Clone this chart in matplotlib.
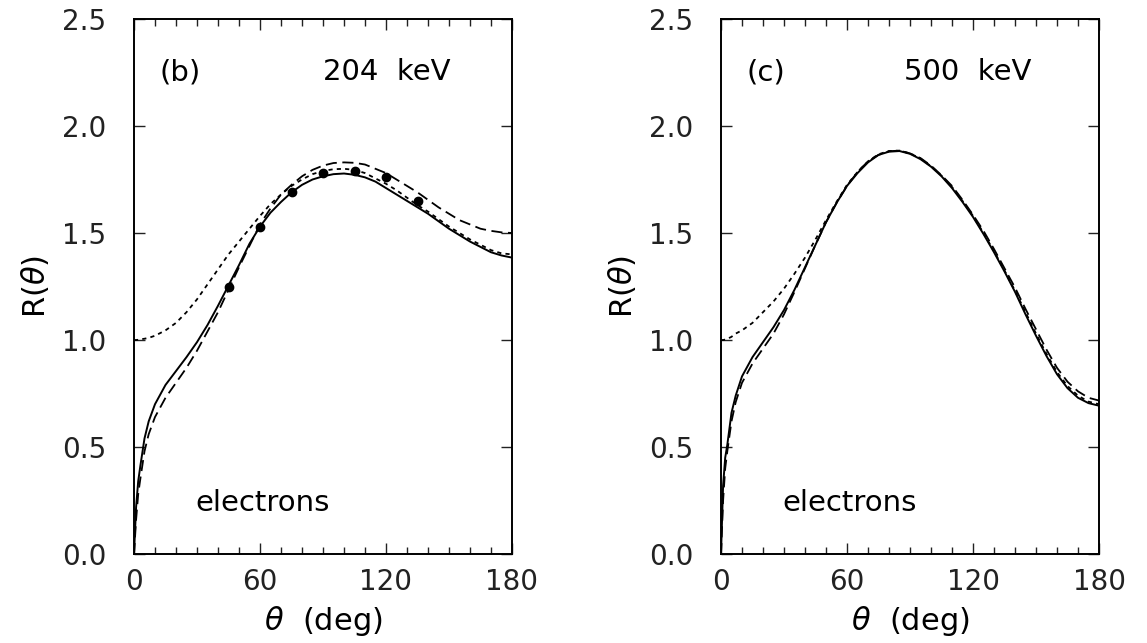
import numpy as np
import matplotlib
matplotlib.use("Agg")
import matplotlib.pyplot as plt
from matplotlib.ticker import MultipleLocator, FormatStrFormatter

plt.rcParams['font.family'] = ['DejaVu Sans']
plt.rcParams['lines.scale_dashes'] = False
plt.rcParams['mathtext.fontset'] = 'dejavusans'

# angle grid (deg) shared by all curves
theta = [0, 1, 2, 3, 5, 7, 10, 15, 20, 25, 30, 35, 40, 45, 50, 55, 60, 65, 70,
         75, 80, 85, 90, 95, 100, 105, 110, 115, 120, 125, 130, 135, 140, 145,
         150, 155, 160, 165, 170, 175, 180]

# (b) 204 keV
solid_b = [0, 0.22, 0.34, 0.41, 0.54, 0.62, 0.70, 0.79, 0.855, 0.92, 0.99, 1.07,
           1.16, 1.255, 1.35, 1.45, 1.53, 1.595, 1.645, 1.69, 1.725, 1.75,
           1.765, 1.775, 1.778, 1.772, 1.76, 1.74, 1.71, 1.68, 1.65, 1.62,
           1.59, 1.555, 1.52, 1.49, 1.46, 1.435, 1.41, 1.395, 1.385]
long_b = [0, 0.16, 0.28, 0.35, 0.48, 0.56, 0.64, 0.73, 0.80, 0.87, 0.95, 1.04,
          1.13, 1.235, 1.34, 1.44, 1.54, 1.615, 1.68, 1.725, 1.765, 1.795,
          1.815, 1.827, 1.83, 1.828, 1.82, 1.80, 1.78, 1.75, 1.72, 1.69,
          1.655, 1.62, 1.59, 1.56, 1.54, 1.52, 1.51, 1.503, 1.50]
short_b = [1.0, 1.0, 1.001, 1.003, 1.006, 1.01, 1.02, 1.045, 1.08, 1.13, 1.19,
           1.26, 1.33, 1.40, 1.46, 1.52, 1.58, 1.635, 1.68, 1.72, 1.75, 1.775,
           1.79, 1.798, 1.80, 1.795, 1.78, 1.755, 1.73, 1.70, 1.665, 1.63,
           1.60, 1.565, 1.53, 1.50, 1.47, 1.445, 1.42, 1.405, 1.40]
exp_theta_b = [45, 60, 75, 90, 105, 120, 135]
exp_R_b = [1.25, 1.53, 1.69, 1.78, 1.79, 1.76, 1.65]

# (c) 500 keV
solid_c = [0, 0.32, 0.45, 0.51, 0.66, 0.74, 0.83, 0.92, 0.99, 1.06, 1.14, 1.235,
           1.34, 1.445, 1.55, 1.64, 1.72, 1.78, 1.83, 1.865, 1.88, 1.883,
           1.87, 1.845, 1.81, 1.765, 1.71, 1.645, 1.575, 1.495, 1.41, 1.32,
           1.225, 1.12, 1.02, 0.925, 0.84, 0.775, 0.73, 0.705, 0.693]
long_c = [0, 0.25, 0.40, 0.48, 0.62, 0.71, 0.80, 0.89, 0.96, 1.03, 1.12, 1.225,
          1.335, 1.445, 1.55, 1.64, 1.72, 1.785, 1.835, 1.865, 1.882, 1.885,
          1.872, 1.85, 1.815, 1.77, 1.72, 1.655, 1.585, 1.51, 1.425, 1.335,
          1.245, 1.145, 1.05, 0.955, 0.87, 0.805, 0.76, 0.73, 0.717]
short_c = [1.0, 1.0, 1.002, 1.005, 1.015, 1.03, 1.045, 1.08, 1.13, 1.18, 1.24,
           1.31, 1.385, 1.47, 1.56, 1.645, 1.725, 1.785, 1.835, 1.868, 1.883,
           1.885, 1.872, 1.848, 1.812, 1.768, 1.715, 1.65, 1.58, 1.50, 1.415,
           1.325, 1.23, 1.13, 1.03, 0.935, 0.85, 0.785, 0.74, 0.712, 0.70]

panels = [
    ("(b)", "204  keV", solid_b, long_b, short_b, True),
    ("(c)", "500  keV", solid_c, long_c, short_c, False),
]

fig = plt.figure(figsize=(11.47, 6.43), dpi=100)
lefts = [134 / 1147, 721 / 1147]

for (tag, energy, sol, lng, sht, show_exp), left in zip(panels, lefts):
    ax = fig.add_axes([left, 1 - 554 / 643, 378 / 1147, 535 / 643])
    ax.plot(theta, sol, color='black', lw=1.4)
    ax.plot(theta, lng, color='black', lw=1.3, dashes=(8, 4))
    ax.plot(theta, sht, color='black', lw=1.3, dashes=(3, 3))
    if show_exp:
        ax.plot(exp_theta_b, exp_R_b, 'o', color='black', ms=6)

    ax.set_xlim(0, 180)
    ax.set_ylim(0, 2.5)
    ax.xaxis.set_major_locator(MultipleLocator(60))
    ax.xaxis.set_minor_locator(MultipleLocator(10))
    ax.yaxis.set_major_locator(MultipleLocator(0.5))
    ax.yaxis.set_major_formatter(FormatStrFormatter('%.1f'))
    ax.tick_params(which='both', direction='in', top=True, right=True,
                   labelsize=20, width=1.0, colors='#222222')
    ax.tick_params(which='major', length=8)
    ax.tick_params(which='minor', length=5)
    ax.tick_params(axis='y', pad=20)
    ax.tick_params(axis='x', pad=10)
    for s in ax.spines.values():
        s.set_linewidth(1.4)

    ax.text(12, 2.25, tag, fontsize=21, va='center')
    ax.text(90 if show_exp else 87, 2.25, energy, fontsize=21, va='center')
    ax.text(29, 0.24, "electrons", fontsize=21, va='center')

    ax.set_xlabel(r"$\theta$  (deg)", fontsize=22, labelpad=6)
    ax.set_ylabel(r"R($\theta$)", fontsize=22, labelpad=8)

fig.savefig("out.png", dpi=100)
